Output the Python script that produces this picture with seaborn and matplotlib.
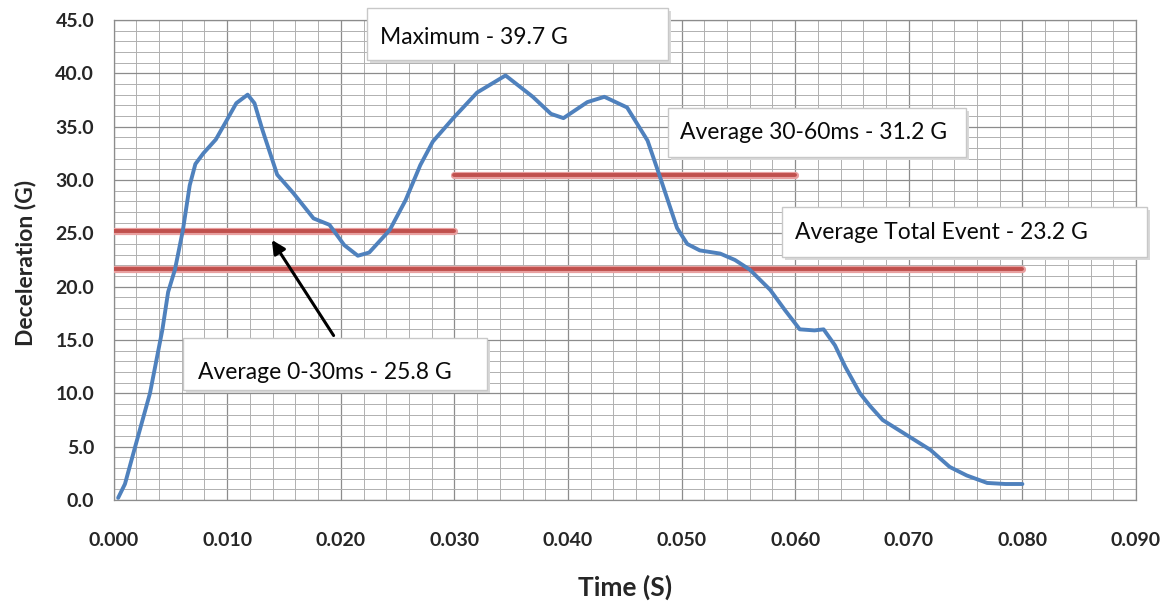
import numpy as np
import pandas as pd
import matplotlib
matplotlib.use("Agg")
import matplotlib.pyplot as plt
from matplotlib.patches import Rectangle
from matplotlib.ticker import MultipleLocator, FormatStrFormatter
import seaborn as sns

# ---- data ----
time_s = [0.0004, 0.0010, 0.0019, 0.0032, 0.0043, 0.0048, 0.0054, 0.0061, 0.0067,
          0.0072, 0.0079, 0.0090, 0.0098, 0.0108, 0.0118, 0.0124, 0.0131, 0.0144,
          0.0158, 0.0176, 0.0190, 0.0203, 0.0215, 0.0225, 0.0243, 0.0257, 0.0270,
          0.0281, 0.0299, 0.0320, 0.0345, 0.0369, 0.0385, 0.0396, 0.0417, 0.0432,
          0.0452, 0.0470, 0.0480, 0.0496, 0.0505, 0.0516, 0.0534, 0.0547, 0.0560,
          0.0578, 0.0591, 0.0604, 0.0617, 0.0625, 0.0635, 0.0644, 0.0657, 0.0666,
          0.0677, 0.0701, 0.0719, 0.0736, 0.0751, 0.0769, 0.0785, 0.0800]
decel_g = [0.2, 1.5, 5.0, 10.0, 16.0, 19.5, 21.6, 25.3, 29.5,
           31.5, 32.5, 33.8, 35.3, 37.2, 38.0, 37.2, 34.7, 30.5,
           28.8, 26.4, 25.8, 23.9, 22.9, 23.2, 25.3, 28.1, 31.4,
           33.6, 35.8, 38.2, 39.8, 37.8, 36.2, 35.8, 37.3, 37.8,
           36.8, 33.7, 30.6, 25.5, 24.0, 23.4, 23.1, 22.5, 21.6,
           19.7, 17.8, 16.0, 15.9, 16.0, 14.5, 12.5, 10.0, 8.8,
           7.5, 5.9, 4.7, 3.1, 2.3, 1.6, 1.5, 1.5]

avg_names = ["Average 0-30ms", "Average 30-60ms", "Average Total Event"]
avg_start = [0.000, 0.030, 0.000]
avg_end = [0.030, 0.060, 0.080]
avg_value = [25.2, 30.5, 21.65]

x_ticks = [0.000, 0.010, 0.020, 0.030, 0.040, 0.050, 0.060, 0.070, 0.080, 0.090]
y_ticks = [0.0, 5.0, 10.0, 15.0, 20.0, 25.0, 30.0, 35.0, 40.0, 45.0]

label_max = "Maximum - 39.7 G"
label_3060 = "Average 30-60ms - 31.2 G"
label_total = "Average Total Event - 23.2 G"
label_030 = "Average 0-30ms - 25.8 G"

# ---- style ----
sns.set_style("white")
plt.rcParams["font.family"] = ["Lato", "DejaVu Sans"]

fig = plt.figure(figsize=(11.73, 6.09), dpi=100)
ax = fig.add_axes([113.6 / 1173, 1 - 500 / 609, 1022.4 / 1173, 480 / 609])

curve = pd.DataFrame({"t": time_s, "g": decel_g})
sns.lineplot(data=curve, x="t", y="g", ax=ax, color="#4F81BD", linewidth=2.8,
             zorder=5, sort=False)

seg_rows = []
for name, s, e, v in zip(avg_names, avg_start, avg_end, avg_value):
    seg_rows.append({"name": name, "t": s, "g": v})
    seg_rows.append({"name": name, "t": e, "g": v})
segs = pd.DataFrame(seg_rows)
sns.lineplot(data=segs, x="t", y="g", units="name", estimator=None, ax=ax,
             color="#E8A0A0", linewidth=5.2, zorder=3, sort=False)
sns.lineplot(data=segs, x="t", y="g", units="name", estimator=None, ax=ax,
             color="#C0504D", linewidth=2.8, zorder=4, sort=False)

ax.set_xlim(x_ticks[0], x_ticks[-1])
ax.set_ylim(y_ticks[0], y_ticks[-1])
ax.set_xticks(x_ticks)
ax.set_yticks(y_ticks)
ax.xaxis.set_major_formatter(FormatStrFormatter("%.3f"))
ax.yaxis.set_major_formatter(FormatStrFormatter("%.1f"))
ax.xaxis.set_minor_locator(MultipleLocator(0.002))
ax.yaxis.set_minor_locator(MultipleLocator(1.0))
ax.grid(which="major", color="#8c8c8c", linewidth=0.9)
ax.grid(which="minor", color="#b0b0b0", linewidth=0.7)
ax.set_axisbelow(True)
for sp in ax.spines.values():
    sp.set_color("#8c8c8c")
    sp.set_linewidth(0.9)
ax.tick_params(axis="both", which="major", length=6, color="#8c8c8c", width=0.9,
               labelsize=14, pad=8)
ax.tick_params(axis="both", which="minor", length=0)
ax.tick_params(axis="x", pad=17)
for lab in ax.get_xticklabels() + ax.get_yticklabels():
    lab.set_fontweight("bold")

ax.set_xlabel("Time (S)", fontsize=19, fontweight="bold")
ax.set_ylabel("Deceleration (G)", fontsize=16.5, fontweight="bold")
ax.xaxis.set_label_coords(0.5, -0.181)
ax.yaxis.set_label_coords(-0.086, 0.494)
ax.xaxis.label.set_va("center")
ax.yaxis.label.set_va("center")

# ---- annotation boxes (axes fraction coordinates) ----
def box(x0, y0, w, h, tx, ty, text):
    ax.add_patch(Rectangle((x0 + 0.003, y0 - 0.006), w, h, transform=ax.transAxes,
                           facecolor="#d9d9d9", edgecolor="none", clip_on=False,
                           zorder=6))
    ax.add_patch(Rectangle((x0, y0), w, h, transform=ax.transAxes,
                           facecolor="white", edgecolor="#c8c8c8", linewidth=1.0,
                           clip_on=False, zorder=7))
    ax.text(tx, ty, text, transform=ax.transAxes, fontsize=16.5, color="#0a0a0a",
            ha="left", va="center", zorder=8, clip_on=False)

box(0.2478, 0.9167, 0.2944, 0.1083, 0.2606, 0.9625, label_max)
box(0.5422, 0.7146, 0.2915, 0.1021, 0.5540, 0.7646, label_3060)
box(0.6538, 0.5063, 0.3570, 0.1041, 0.6665, 0.5583, label_total)
box(0.0679, 0.2290, 0.2973, 0.1085, 0.0826, 0.2646, label_030)

ax.annotate("", xy=(0.0138, 24.6), xytext=(0.0195, 15.2),
            arrowprops=dict(arrowstyle="-|>,head_length=0.8,head_width=0.4",
                            color="black", linewidth=2.2),
            zorder=9)

fig.savefig("out.png", dpi=100, facecolor="white")
